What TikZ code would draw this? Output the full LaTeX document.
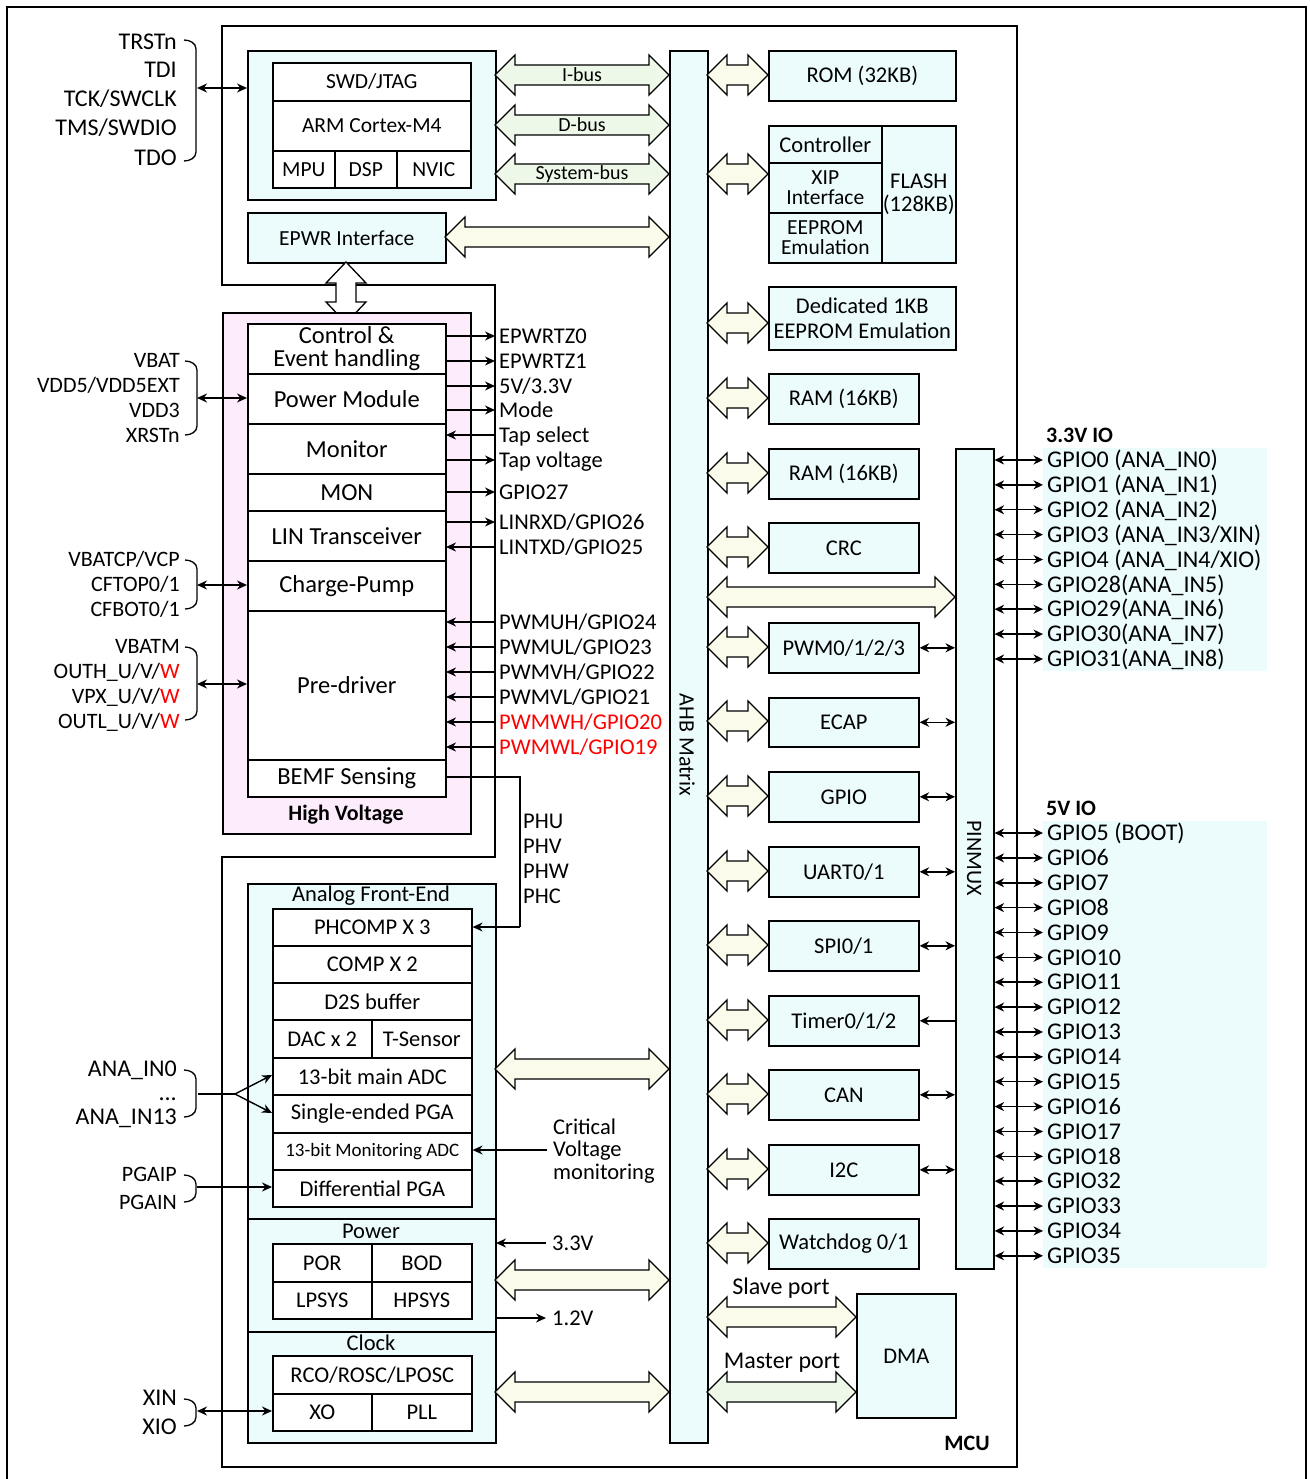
\documentclass[tikz,border=0pt]{standalone}
\usepackage{fontspec}
\setmainfont{Carlito}
\usetikzlibrary{arrows.meta}
\definecolor{cyanf}{RGB}{236,252,253}
\definecolor{pinkf}{RGB}{252,236,252}
\definecolor{ivoryf}{RGB}{251,251,236}
\definecolor{greenf}{RGB}{237,248,232}
\definecolor{gpiobg}{RGB}{236,252,252}
\definecolor{redtxt}{RGB}{255,0,0}
\newcommand\fs[1]{\fontsize{#1}{#1}\selectfont}
% rectangle node from corners: name, x1, y1, x2, y2, style, text
\newcommand\RB[7]{\node[#6, anchor=north west, minimum width={#4-#2}, minimum height={#5-#3}] (#1) at (#2,#3) {#7};}
% hollow horizontal double arrow: x1, x2, y, fill
\newcommand\DA[4]{\filldraw[fill=#4, line width=1.3pt, line join=miter]
 (#1,#3) -- ({#1+20},{#3-20}) -- ({#1+20},{#3-10}) -- ({#2-20},{#3-10}) -- ({#2-20},{#3-20}) -- (#2,#3)
 -- ({#2-20},{#3+20}) -- ({#2-20},{#3+10}) -- ({#1+20},{#3+10}) -- ({#1+20},{#3+20}) -- cycle;}
\newcommand\Brace[3]{\draw[line width=1.3pt] (#1,#2) to[out=0,in=90] ({#1+12},{#2+9}) -- ({#1+12},{#3-9}) to[out=-90,in=0] (#1,#3);}
% HV signal: name, text, y, o/i, extra style
\newcommand\HS[5]{\node[hvs,#5] (#1) at (499,#3) {#2};
  \if o#4 \draw[sig] (446,#3) -- (#1.west -| 495,0); \else \draw[sig] (#1.west -| 495,0) -- (446,#3); \fi}
\tikzset{
  wbox/.style={draw, line width=1.6pt, fill=white, inner sep=0pt, align=center, font=\fs{22.5}},
  cbox/.style={wbox, fill=cyanf},
  grp/.style={draw, line width=1.6pt, fill=cyanf, inner sep=0pt},
  sig/.style={-{Stealth[length=10pt,width=9pt]}, line width=1.4pt},
  bisig/.style={{Stealth[length=10pt,width=9pt]}-{Stealth[length=10pt,width=9pt]}, line width=1.4pt},
  pmx/.style={{Stealth[length=9.5pt,width=9pt]}-{Stealth[length=9.5pt,width=9pt]}, line width=1.5pt},
  lbl/.style={inner sep=0pt, font=\fs{22.5}, text height=14.5pt, text depth=0pt},
  pinl/.style={lbl, font=\fs{24}, text height=15.5pt, anchor=east},
  hvs/.style={lbl, font=\fs{22.5}, anchor=west},
  gp/.style={lbl, font=\fs{24}, text height=15.5pt, anchor=west},
  hvb/.style={wbox, font=\fs{24.5}},
}
\begin{document}
\begin{tikzpicture}[x=1pt,y=-1pt]
\useasboundingbox (0,0) rectangle (1309,1479);
\fill[white] (0,0) rectangle (1309,1479);
% outer frame
\draw[line width=2.6pt] (7,1485) -- (7,7) -- (1306,7) -- (1306,1485);
% MCU frame
\draw[line width=1.6pt] (222,26) -- (1017,26) -- (1017,1467) -- (222,1467) -- (222,857) -- (495,857) -- (495,285) -- (222,285) -- cycle;
\node[font=\bfseries\fs{22}] (mcu) at (967,1443) {MCU};

% ---------- CPU group ----------
\RB{cpu}{247}{50}{495}{199}{grp}{}
\RB{swd}{272}{62}{470}{100}{wbox,font=\fs{21.5}}{SWD/JTAG}
\RB{arm}{272}{100}{470}{150}{wbox,font=\fs{21.5}}{ARM Cortex-M4}
\RB{mpu}{272}{150}{334}{187}{wbox,font=\fs{21.5}}{MPU}
\RB{dsp}{334}{150}{396}{187}{wbox,font=\fs{21.5}}{DSP}
\RB{nvic}{396}{150}{470}{187}{wbox,font=\fs{21.5}}{NVIC}
\RB{epwr}{247}{212}{445}{262}{cbox,font=\fs{21.5}}{EPWR Interface}

% AHB matrix
\RB{ahb}{669}{50}{707}{1442}{cbox}{}
\node[rotate=-90, font=\fs{22}] (ahbt) at (687,745) {AHB Matrix};

% bus arrows
\DA{495}{669}{75}{greenf}
\DA{495}{669}{125}{greenf}
\DA{495}{669}{174}{greenf}
\DA{445}{669}{237}{ivoryf}
\node[font=\fs{20}] (ib) at (582,75) {I-bus};
\node[font=\fs{20}] (db) at (582,125) {D-bus};
\node[font=\fs{20}] (sb) at (582,174) {System-bus};

% EPWR <-> HV vertical arrow
\filldraw[fill=white, line width=1.3pt] (346,262) -- (366,283) -- (356,283) -- (356,302) -- (366,302) -- (346,323) -- (326,302) -- (336,302) -- (336,283) -- (326,283) -- cycle;

% JTAG pins
\node[pinl] (p1) at (177,42) {TRSTn};
\node[pinl] (p2) at (177,70) {TDI};
\node[pinl] (p3) at (177,99) {TCK/SWCLK};
\node[pinl] (p4) at (177,128) {TMS/SWDIO};
\node[pinl] (p5) at (177,158) {TDO};
\Brace{184}{40}{161}
\coordinate (jb) at (197,88);
\draw[bisig] (jb) -- (jb -| cpu.west);

% ---------- Right memory ----------
\RB{rom}{768}{50}{955}{100}{cbox}{ROM (32KB)}
\RB{flash}{881}{125}{955}{262}{cbox}{FLASH\\(128KB)}
\RB{ctrl}{768}{125}{881}{162}{cbox}{Controller}
\RB{xip}{768}{162}{881}{212}{cbox,font=\fs{21.5}}{XIP\\[-1pt]Interface}
\RB{eep}{768}{212}{881}{262}{cbox,font=\fs{21.5}}{EEPROM\\[-1pt]Emulation}
\RB{ded}{768}{286}{955}{349}{cbox}{Dedicated 1KB\\[3pt]EEPROM Emulation}
\RB{ram1}{768}{373}{918}{423}{cbox}{RAM (16KB)}
\RB{ram2}{768}{448}{918}{498}{cbox}{RAM (16KB)}
\RB{crc}{768}{522}{918}{572}{cbox}{CRC}
\RB{pwm}{768}{622}{918}{672}{cbox}{PWM0/1/2/3}
\RB{ecap}{768}{697}{918}{746}{cbox}{ECAP}
\RB{gpio}{768}{771}{918}{821}{cbox}{GPIO}
\RB{uart}{768}{846}{918}{896}{cbox}{UART0/1}
\RB{spi}{768}{920}{918}{970}{cbox}{SPI0/1}
\RB{tmr}{768}{995}{918}{1045}{cbox}{Timer0/1/2}
\RB{can}{768}{1069}{918}{1119}{cbox}{CAN}
\RB{i2c}{768}{1144}{918}{1194}{cbox}{I2C}
\RB{wdg}{768}{1218}{918}{1268}{cbox}{Watchdog 0/1}
\RB{pinmux}{955}{448}{993}{1268}{cbox}{}
\node[rotate=-90, font=\fs{22}] (pmt) at (974,858) {PINMUX};
\RB{dma}{856}{1293}{955}{1417}{cbox}{DMA}

% hollow arrows AHB -> modules
\DA{707}{768}{75}{ivoryf}
\DA{707}{768}{174}{ivoryf}
\DA{707}{768}{323}{ivoryf}
\DA{707}{768}{398}{ivoryf}
\DA{707}{768}{473}{ivoryf}
\DA{707}{768}{547}{ivoryf}
\DA{707}{955}{597}{ivoryf}
\DA{707}{768}{647}{ivoryf}
\DA{707}{768}{721}{ivoryf}
\DA{707}{768}{796}{ivoryf}
\DA{707}{768}{871}{ivoryf}
\DA{707}{768}{945}{ivoryf}
\DA{707}{768}{1020}{ivoryf}
\DA{707}{768}{1094}{ivoryf}
\DA{707}{768}{1169}{ivoryf}
\DA{707}{768}{1243}{ivoryf}
\DA{707}{856}{1317}{ivoryf}
\DA{707}{856}{1392}{greenf}
\node[font=\fs{24}] (slv) at (781,1288) {Slave port};
\node[font=\fs{24}] (mst) at (782,1363) {Master port};

% module <-> pinmux
\foreach \m in {pwm,ecap,gpio,uart,spi,can,i2c}{
  \draw[pmx] (\m.east) -- (\m.east -| pinmux.west);
}
\draw[line width=1.5pt, -{Stealth[length=9.5pt,width=9pt]}] (tmr.east -| pinmux.west) -- (tmr.east);

% ---------- GPIO lists ----------
\fill[gpiobg] (1043,448) rectangle (1267,671);
\fill[gpiobg] (1043,821) rectangle (1267,1268);
\node[lbl, font=\bfseries\fs{22}, anchor=west] (io33) at (1046,435) {3.3V IO};
\node[lbl, font=\bfseries\fs{22}, anchor=west] (io5) at (1046,808) {5V IO};
\foreach \t [count=\i from 0] in {{GPIO0 (ANA\_IN0)},{GPIO1 (ANA\_IN1)},{GPIO2 (ANA\_IN2)},{GPIO3 (ANA\_IN3/XIN)},{GPIO4 (ANA\_IN4/XIO)},{GPIO28(ANA\_IN5)},{GPIO29(ANA\_IN6)},{GPIO30(ANA\_IN7)},{GPIO31(ANA\_IN8)}}{
  \node[gp] (ga\i) at (1047,{460+24.87*\i}) {\t};
  \draw[pmx] (pinmux.east |- ga\i.west) -- ([xshift=-4pt]ga\i.west);
}
\foreach \t [count=\i from 0] in {{GPIO5 (BOOT)},GPIO6,GPIO7,GPIO8,GPIO9,GPIO10,GPIO11,GPIO12,GPIO13,GPIO14,GPIO15,GPIO16,GPIO17,GPIO18,GPIO32,GPIO33,GPIO34,GPIO35}{
  \node[gp] (gb\i) at (1047,{833+24.87*\i}) {\t};
  \draw[pmx] (pinmux.east |- gb\i.west) -- ([xshift=-4pt]gb\i.west);
}

% ---------- High voltage ----------
\RB{hv}{222}{312}{470}{833}{draw, line width=1.6pt, fill=pinkf, inner sep=0pt}{}
\RB{ctl}{247}{323}{445}{373}{hvb}{Control \&\\[-2pt]Event handling}
\RB{pwrm}{247}{373}{445}{423}{hvb}{Power Module}
\RB{mon}{247}{423}{445}{473}{hvb}{Monitor}
\RB{mon2}{247}{473}{445}{510}{hvb}{MON}
\RB{lin}{247}{510}{445}{560}{hvb}{LIN Transceiver}
\RB{cp}{247}{560}{445}{610}{hvb}{Charge-Pump}
\RB{pre}{247}{610}{445}{759}{hvb}{Pre-driver}
\RB{bemf}{247}{759}{445}{796}{hvb}{BEMF Sensing}
\node[font=\bfseries\fs{22}] (hvt) at (346,815) {High Voltage};

% HV signals
\HS{s1}{EPWRTZ0}{336}{o}{}
\HS{s2}{EPWRTZ1}{361}{o}{}
\HS{s3}{5V/3.3V}{386}{o}{}
\HS{s4}{Mode}{410}{o}{}
\HS{s5}{Tap select}{435}{i}{}
\HS{s6}{Tap voltage}{460}{o}{}
\HS{s7}{GPIO27}{492}{o}{}
\HS{s8}{LINRXD/GPIO26}{522}{o}{}
\HS{s9}{LINTXD/GPIO25}{547}{i}{}
\HS{s10}{PWMUH/GPIO24}{622}{i}{}
\HS{s11}{PWMUL/GPIO23}{647}{i}{}
\HS{s12}{PWMVH/GPIO22}{672}{i}{}
\HS{s13}{PWMVL/GPIO21}{697}{i}{}
\HS{s14}{PWMWH/GPIO20}{722}{i}{text=redtxt}
\HS{s15}{PWMWL/GPIO19}{747}{i}{text=redtxt}

% left HV pins
\node[pinl, font=\fs{22}] (v1) at (180,360) {VBAT};
\node[pinl, font=\fs{22}] (v2) at (180,385) {VDD5/VDD5EXT};
\node[pinl, font=\fs{22}] (v3) at (180,410) {VDD3};
\node[pinl, font=\fs{22}] (v4) at (180,435) {XRSTn};
\Brace{185}{361}{435}
\coordinate (vb) at (197,398);
\draw[bisig] (vb) -- (vb -| pwrm.west);

\node[pinl, font=\fs{22}] (c1) at (180,559) {VBATCP/VCP};
\node[pinl, font=\fs{22}] (c2) at (180,584) {CFTOP0/1};
\node[pinl, font=\fs{22}] (c3) at (180,609) {CFBOT0/1};
\Brace{185}{560}{609}
\coordinate (cb) at (197,585);
\draw[bisig] (cb) -- (cb -| cp.west);

\node[pinl, font=\fs{22}] (o1) at (180,646) {VBATM};
\node[pinl, font=\fs{22}] (o2) at (180,671) {OUTH\_U/V/\textcolor{redtxt}{W}};
\node[pinl, font=\fs{22}] (o3) at (180,696) {VPX\_U/V/\textcolor{redtxt}{W}};
\node[pinl, font=\fs{22}] (o4) at (180,721) {OUTL\_U/V/\textcolor{redtxt}{W}};
\Brace{185}{647}{720}
\coordinate (ob) at (197,684);
\draw[bisig] (ob) -- (ob -| pre.west);

% BEMF phase line
\coordinate (bk1) at (520,777);
\coordinate (bk2) at (520,927);
\node[hvs] (ph1) at (523,821) {PHU};
\node[hvs] (ph2) at (523,846) {PHV};
\node[hvs] (ph3) at (523,871) {PHW};
\node[hvs] (ph4) at (523,896) {PHC};

% ---------- Analog front end ----------
\RB{afe}{247}{883}{495}{1218}{grp}{}
\node[font=\fs{22.5}] (afet) at (371,896) {Analog Front-End};
\RB{phc}{272}{908}{471}{945}{wbox}{PHCOMP X 3}
\RB{comp}{272}{945}{471}{982}{wbox}{COMP X 2}
\RB{d2s}{272}{982}{471}{1019}{wbox}{D2S buffer}
\RB{dac}{272}{1019}{371}{1057}{wbox}{DAC x 2}
\RB{tsen}{371}{1019}{471}{1057}{wbox}{T-Sensor}
\RB{adc}{272}{1057}{471}{1094}{wbox}{13-bit main ADC}
\RB{sepga}{272}{1094}{471}{1132}{wbox}{Single-ended PGA}
\RB{madc}{272}{1132}{471}{1169}{wbox,font=\fs{19}}{13-bit Monitoring ADC}
\RB{dpga}{272}{1169}{471}{1206}{wbox}{Differential PGA}
\draw[line width=1.3pt] (bemf.east |- bk1) -- (bk1) -- (bk2);
\draw[sig] (bk2) -- (bk2 -| phc.east);

\node[lbl, anchor=west] (cr1) at (553,1127) {Critical};
\node[lbl, anchor=west] (cr2) at (553,1149) {Voltage};
\node[lbl, anchor=west] (cr3) at (553,1172) {monitoring};
\coordinate (crc0) at (547,1150);
\draw[sig] (crc0) -- (crc0 -| madc.east);

\node[pinl] (a1) at (177,1069) {ANA\_IN0};
\node[pinl] (a2) at (177,1093) {...};
\node[pinl] (a3) at (177,1117) {ANA\_IN13};
\Brace{184}{1070}{1117}
\coordinate (ab) at (198,1094);
\coordinate (ab2) at (235,1094);
\draw[line width=1.3pt] (ab) -- (ab2);
\draw[sig] (ab2) -- (272,1075);
\draw[sig] (ab2) -- (272,1113);

\node[pinl, font=\fs{22}] (g1) at (177,1174) {PGAIP};
\node[pinl, font=\fs{22}] (g2) at (177,1202) {PGAIN};
\Brace{184}{1175}{1202}
\coordinate (gb) at (197,1187);
\draw[sig] (gb) -- (gb -| dpga.west);

% ---------- Power ----------
\RB{pwr}{247}{1218}{495}{1331}{grp}{}
\node[font=\fs{22.5}] (pwrt) at (371,1231) {Power};
\RB{por}{272}{1243}{371}{1281}{wbox}{POR}
\RB{bod}{371}{1243}{471}{1281}{wbox}{BOD}
\RB{lps}{272}{1281}{371}{1318}{wbox}{LPSYS}
\RB{hps}{371}{1281}{471}{1318}{wbox}{HPSYS}
\node[lbl, anchor=west] (v33) at (552,1243) {3.3V};
\node[lbl, anchor=west] (v12) at (552,1318) {1.2V};
\draw[sig] (546,1243) -- (496,1243);
\draw[sig] (495,1318) -- (546,1318);

% ---------- Clock ----------
\RB{clk}{247}{1331}{495}{1442}{grp}{}
\node[font=\fs{22.5}] (clkt) at (371,1343) {Clock};
\RB{rco}{272}{1355}{471}{1393}{wbox}{RCO/ROSC/LPOSC}
\RB{xo}{272}{1393}{371}{1430}{wbox}{XO}
\RB{pll}{371}{1393}{471}{1430}{wbox}{PLL}
\node[pinl] (x1) at (177,1398) {XIN};
\node[pinl] (x2) at (177,1427) {XIO};
\Brace{184}{1399}{1426}
\coordinate (xb) at (197,1411);
\draw[bisig] (xb) -- (xb -| xo.west);

% big arrows from AFE/Power/Clock to AHB
\DA{495}{669}{1069}{ivoryf}
\DA{495}{669}{1280}{ivoryf}
\DA{495}{669}{1392}{ivoryf}
\end{tikzpicture}
\end{document}
